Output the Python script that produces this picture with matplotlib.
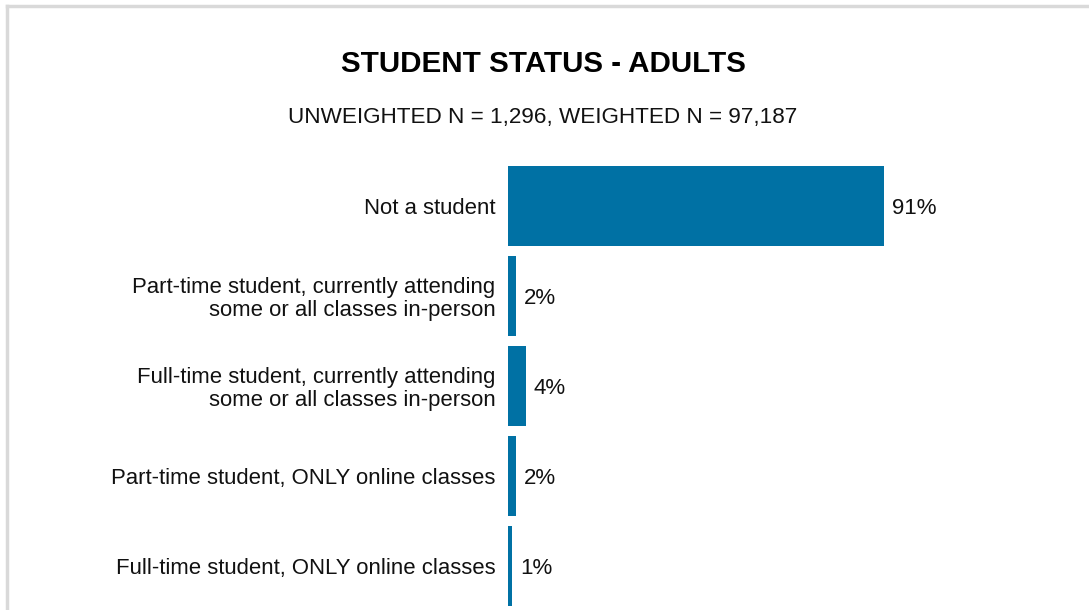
import matplotlib.pyplot as plt
from matplotlib.lines import Line2D

categories = [
    "Not a student",
    "Part-time student, currently attending\nsome or all classes in-person",
    "Full-time student, currently attending\nsome or all classes in-person",
    "Part-time student, ONLY online classes",
    "Full-time student, ONLY online classes",
]
values = [91.0, 2.0, 4.3, 2.0, 1.0]  # bar lengths
value_labels = ["91%", "2%", "4%", "2%", "1%"]

BLUE = '#0071a4'
TEXT = '#111111'
W, H = 1089, 610

plt.rcParams['font.family'] = ['Liberation Sans', 'DejaVu Sans']

fig = plt.figure(figsize=(W / 100, H / 100), dpi=100)

# axes placed in pixel terms: x from 508 to 1089, y from 161 to 610
ax = fig.add_axes([508 / W, 0, (W - 508) / W, (610 - 161) / H])
ypos = list(range(len(categories)))
ax.barh(ypos, values, height=0.889, color=BLUE)
ax.set_ylim(4.489, -0.5)
ax.set_xlim(0, (W - 508) / 4.132)

for y, v, lab in zip(ypos, values, value_labels):
    ax.annotate(lab, (v, y), xytext=(5.5, 0), textcoords='offset points',
                va='center_baseline', ha='left', fontsize=16, color=TEXT)

ax.set_yticks(ypos)
ax.set_yticklabels(categories, fontsize=15.9, color=TEXT, linespacing=1.08,
                   va='center_baseline')
ax.tick_params(axis='y', length=0, pad=9)
ax.set_xticks([])
for s in ax.spines.values():
    s.set_visible(False)

fig.text(543 / W, 1 - 72.5 / H, "STUDENT STATUS - ADULTS", ha='center', va='baseline',
         fontsize=21.3, fontweight='bold', color='black')
fig.text(543 / W, 1 - 123.5 / H, "UNWEIGHTED N = 1,296, WEIGHTED N = 97,187",
         ha='center', va='baseline', fontsize=16.2, color=TEXT)

# light frame (top and left edges visible)
fig.add_artist(Line2D([7 / W, 1], [1 - 6 / H, 1 - 6 / H], color='#d9d9d9', lw=2.5,
                      transform=fig.transFigure))
fig.add_artist(Line2D([7 / W, 7 / W], [0, 1 - 6 / H], color='#d9d9d9', lw=2.5,
                      transform=fig.transFigure))

plt.savefig('out.png', dpi=100)
